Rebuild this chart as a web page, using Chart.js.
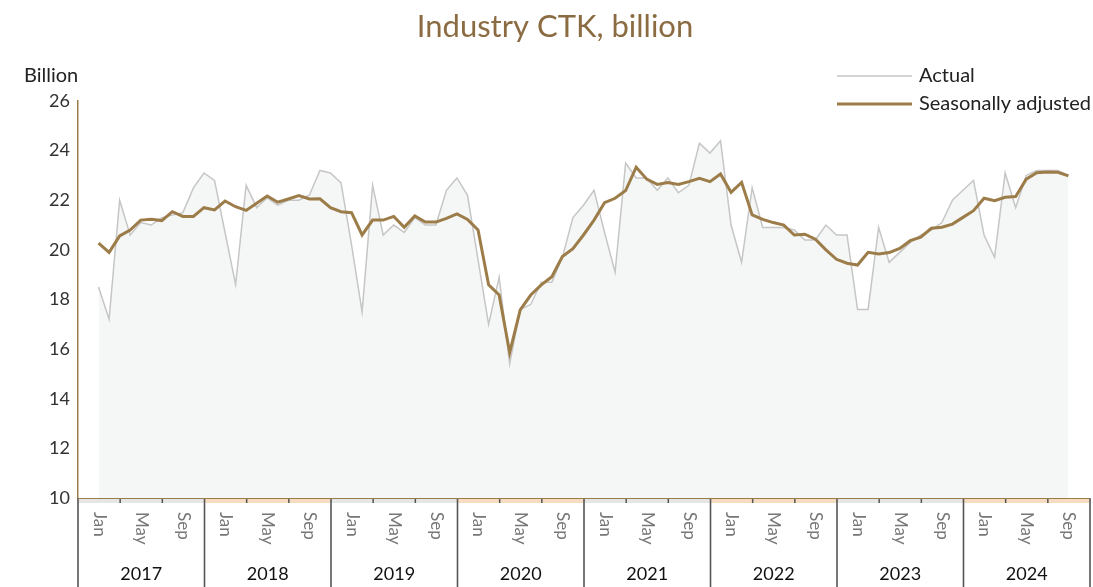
<!DOCTYPE html>
<html>
<head>
<meta charset="utf-8">
<title>Industry CTK, billion</title>
<script src="https://cdn.jsdelivr.net/npm/chart.js@4.4.1/dist/chart.umd.min.js"></script>
<style>
  html, body { margin: 0; padding: 0; background: #fff; }
  #wrap { width: 1093px; height: 587px; }
</style>
</head>
<body>
<div id="wrap"><canvas id="ctk" width="1093" height="587"></canvas></div>
<script>
(function () {
    'use strict';

    // monthly, Jan 2017 .. Sep 2024
    var years = ['2017', '2018', '2019', '2020', '2021', '2022', '2023', '2024'];
    var monthNames = ['Jan', 'Feb', 'Mar', 'Apr', 'May', 'Jun', 'Jul', 'Aug', 'Sep', 'Oct', 'Nov', 'Dec'];
    var bandLabels = ['Jan', 'May', 'Sep'];

    var actual = [
        18.5, 17.2, 22.0, 20.6, 21.1, 21.0, 21.3, 21.4, 21.5, 22.5, 23.1, 22.8,
        20.7, 18.6, 22.6, 21.7, 22.1, 21.8, 22.0, 22.0, 22.2, 23.2, 23.1, 22.7,
        20.2, 17.5, 22.6, 20.6, 21.0, 20.7, 21.3, 21.0, 21.0, 22.4, 22.9, 22.2,
        19.6, 17.0, 18.9, 15.4, 17.6, 17.8, 18.7, 18.7, 19.7, 21.3, 21.8, 22.4,
        20.7, 19.1, 23.5, 22.9, 22.9, 22.4, 22.9, 22.3, 22.6, 24.3, 23.9, 24.4,
        21.0, 19.5, 22.5, 20.9, 20.9, 20.9, 20.8, 20.4, 20.4, 21.0, 20.6, 20.6,
        17.6, 17.6, 20.9, 19.5, 19.9, 20.3, 20.6, 20.8, 21.1, 22.0, 22.4, 22.8,
        20.6, 19.7, 23.1, 21.7, 23.0, 23.2, 23.2, 23.2, 23.0
    ];

    var seasonallyAdjusted = [
        20.27, 19.90, 20.56, 20.80, 21.20, 21.23, 21.18, 21.54, 21.35, 21.35, 21.70, 21.61,
        21.97, 21.74, 21.59, 21.88, 22.17, 21.92, 22.05, 22.19, 22.05, 22.06, 21.70, 21.54,
        21.50, 20.60, 21.20, 21.20, 21.35, 20.91, 21.37, 21.12, 21.12, 21.27, 21.45, 21.23,
        20.80, 18.59, 18.18, 15.86, 17.58, 18.18, 18.59, 18.92, 19.73, 20.05, 20.60, 21.20,
        21.90, 22.08, 22.39, 23.33, 22.85, 22.64, 22.71, 22.64, 22.75, 22.88, 22.75, 23.06,
        22.32, 22.72, 21.41, 21.23, 21.10, 21.00, 20.60, 20.63, 20.43, 20.00, 19.62, 19.46,
        19.39, 19.90, 19.83, 19.89, 20.06, 20.37, 20.51, 20.87, 20.91, 21.04, 21.31, 21.58,
        22.08, 21.98, 22.12, 22.15, 22.85, 23.11, 23.14, 23.13, 22.98
    ];

    var yMin = 10, yMax = 26, yStep = 2;

    var FONT = 'Lato, "Noto Sans", sans-serif';
    var BROWN = '#9c7c48';
    var GREY_LINE = '#c6c6c6';

    // axis starts a little before Jan 2017 (as in the original)
    var X_START = -1.95;

    var categories = [];
    for (var y = 0; y < years.length; y++) {
        for (var m = 0; m < monthNames.length; m++) {
            categories.push(monthNames[m] + ' ' + years[y]);
        }
    }
    categories = categories.slice(0, actual.length);

    function toPoints(values) {
        var out = [];
        for (var i = 0; i < values.length; i++) {
            out.push({ x: i, y: values[i], label: categories[i] });
        }
        return out;
    }

    var decorations = {
        id: 'decorations',
        afterDraw: function (chart) {
            var ctx = chart.ctx;
            var area = chart.chartArea;
            var xs = chart.scales.x;
            var bottom = area.bottom;
            var H = chart.height;

            ctx.save();

            // title
            ctx.fillStyle = '#8b6c42';
            ctx.font = '31px ' + FONT;
            ctx.textAlign = 'center';
            ctx.textBaseline = 'middle';
            ctx.fillText('Industry CTK, billion', 555, 27);

            // unit label
            ctx.fillStyle = '#222';
            ctx.font = '20px ' + FONT;
            ctx.textAlign = 'left';
            ctx.fillText('Billion', 24, 76);

            // legend
            var ds = chart.data.datasets;
            var rows = [ds[1], ds[0]];
            for (var r = 0; r < rows.length; r++) {
                var ly = 76 + r * 28;
                ctx.strokeStyle = rows[r].borderColor;
                ctx.lineWidth = rows[r].borderWidth;
                ctx.beginPath();
                ctx.moveTo(837, ly);
                ctx.lineTo(912, ly);
                ctx.stroke();
                ctx.fillStyle = '#222';
                ctx.font = '20px ' + FONT;
                ctx.textAlign = 'left';
                ctx.textBaseline = 'middle';
                ctx.fillText(rows[r].label, 919, ly);
            }

            // x axis: year blocks with Jan / May / Sep sub-bands
            for (var yi = 0; yi < years.length; yi++) {
                var start = X_START + yi * 12;
                for (var k = 0; k < bandLabels.length; k++) {
                    var a = xs.getPixelForValue(start + k * 4);
                    var b = xs.getPixelForValue(start + (k + 1) * 4);
                    ctx.fillStyle = yi % 2 === 0 ? '#e6e6e6' : '#f6dcc1';
                    ctx.fillRect(a, bottom, b - a, 5);
                    if (k > 0) {
                        ctx.strokeStyle = '#555';
                        ctx.lineWidth = 1.5;
                        ctx.beginPath();
                        ctx.moveTo(a, bottom);
                        ctx.lineTo(a, bottom + 5);
                        ctx.stroke();
                    }
                    ctx.save();
                    ctx.translate((a + b) / 2, bottom + 14);
                    ctx.rotate(Math.PI / 2);
                    ctx.fillStyle = '#777';
                    ctx.font = '17px ' + FONT;
                    ctx.textAlign = 'left';
                    ctx.textBaseline = 'middle';
                    ctx.fillText(bandLabels[k], 0, 0);
                    ctx.restore();
                }
                var y0 = xs.getPixelForValue(start);
                var y1 = xs.getPixelForValue(start + 12);
                ctx.fillStyle = '#111';
                ctx.font = '18px ' + FONT;
                ctx.textAlign = 'center';
                ctx.textBaseline = 'middle';
                ctx.fillText(years[yi], (y0 + y1) / 2, 574);

                ctx.strokeStyle = '#555';
                ctx.lineWidth = 1.6;
                ctx.beginPath();
                ctx.moveTo(y0, bottom);
                ctx.lineTo(y0, H);
                if (yi === years.length - 1) {
                    ctx.moveTo(y1, bottom);
                    ctx.lineTo(y1, H);
                }
                ctx.stroke();
            }

            // bottom axis line
            ctx.strokeStyle = BROWN;
            ctx.lineWidth = 1;
            ctx.beginPath();
            ctx.moveTo(area.left, bottom + 0.5);
            ctx.lineTo(area.right, bottom + 0.5);
            ctx.stroke();

            ctx.restore();
        }
    };

    new Chart(document.getElementById('ctk'), {
        type: 'line',
        data: {
            datasets: [{
                label: 'Seasonally adjusted',
                data: toPoints(seasonallyAdjusted),
                borderColor: BROWN,
                borderWidth: 3,
                pointRadius: 0,
                tension: 0,
                fill: false,
                order: 1
            }, {
                label: 'Actual',
                data: toPoints(actual),
                borderColor: GREY_LINE,
                borderWidth: 1.5,
                backgroundColor: '#f5f7f6',
                pointRadius: 0,
                tension: 0,
                fill: 'start',
                order: 2
            }]
        },
        options: {
            responsive: false,
            devicePixelRatio: 1,
            animation: false,
            layout: {
                padding: { top: 101, bottom: 89, left: 0, right: 3 }
            },
            plugins: {
                legend: { display: false },
                title: { display: false },
                tooltip: { enabled: false }
            },
            scales: {
                x: {
                    type: 'linear',
                    display: false,
                    min: X_START,
                    max: X_START + years.length * 12
                },
                y: {
                    min: yMin,
                    max: yMax,
                    afterFit: function (scale) { scale.width = 78; },
                    ticks: {
                        stepSize: yStep,
                        color: '#333',
                        padding: 8,
                        font: { family: FONT, size: 18 }
                    },
                    grid: { display: false, drawTicks: false },
                    border: { color: BROWN, width: 1.5 }
                }
            }
        },
        plugins: [decorations]
    });
})();
</script>
</body>
</html>
